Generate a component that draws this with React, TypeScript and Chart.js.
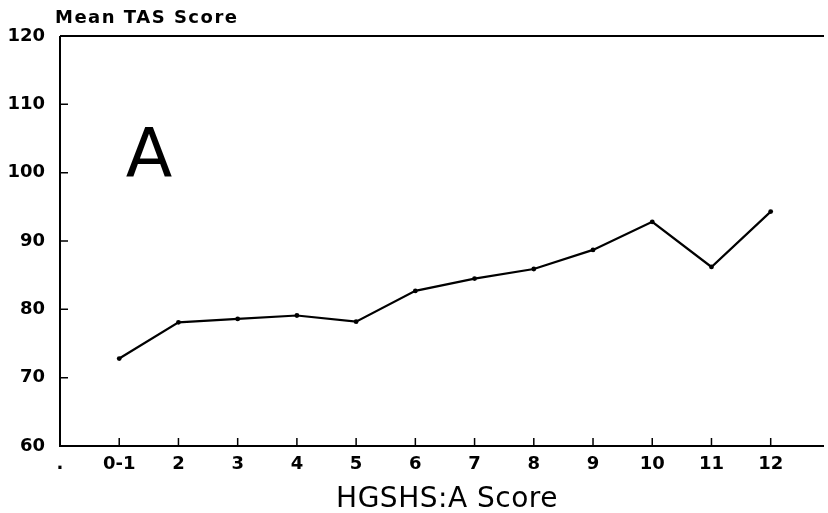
import React, { useEffect, useRef } from "react";
import { Chart, registerables } from "chart.js";

Chart.register(...registerables);

const categoryLabels = [".", "0-1", "2", "3", "4", "5", "6", "7", "8", "9", "10", "11", "12"];
const pointIndex = [1, 2, 3, 4, 5, 6, 7, 8, 9, 10, 11, 12];
const meanTAS = [72.8, 78.1, 78.6, 79.1, 78.2, 82.7, 84.5, 85.9, 88.7, 92.8, 86.2, 94.3];
const yTickValues = [60, 70, 80, 90, 100, 110, 120];
const yTitle = "Mean TAS Score";
const xTitle = "HGSHS:A Score";
const panelLetter = "A";

const framePlugin = {
  id: "frame",
  afterDraw(chart: any) {
    const { ctx, chartArea } = chart;
    const { left, right, top, bottom } = chartArea;
    const xs = chart.scales.x;
    const ys = chart.scales.y;
    ctx.save();
    ctx.strokeStyle = "#000";
    ctx.lineWidth = 2;
    ctx.beginPath();
    ctx.moveTo(left, top);
    ctx.lineTo(right, top);
    ctx.moveTo(left, top);
    ctx.lineTo(left, bottom);
    ctx.lineTo(right, bottom);
    ctx.stroke();
    ctx.lineWidth = 1.5;
    ctx.beginPath();
    for (let i = 1; i < categoryLabels.length; i++) {
      const px = xs.getPixelForValue(i);
      ctx.moveTo(px, bottom);
      ctx.lineTo(px, bottom - 8);
    }
    for (const v of yTickValues) {
      if (v === 60 || v === 120) continue;
      const py = ys.getPixelForValue(v);
      ctx.moveTo(left, py);
      ctx.lineTo(left + 8, py);
    }
    ctx.stroke();
    ctx.fillStyle = "#000";
    ctx.textBaseline = "middle";
    ctx.textAlign = "left";
    ctx.font = "bold 18px 'DejaVu Sans'";
    (ctx as any).letterSpacing = "1.5px";
    ctx.fillText(yTitle, 55, 18);
    ctx.textAlign = "center";
    ctx.font = "28px 'DejaVu Sans'";
    (ctx as any).letterSpacing = "0.5px";
    ctx.fillText(xTitle, (left + right) / 2 + 5, 500);
    (ctx as any).letterSpacing = "0px";
    ctx.textBaseline = "alphabetic";
    ctx.font = "68px 'DejaVu Sans'";
    ctx.fillText(panelLetter, 149, 177);
    ctx.restore();
  },
};

export default function App() {
  const ref = useRef<HTMLCanvasElement>(null);
  useEffect(() => {
    if (!ref.current) return;
    const chart = new Chart(ref.current, {
      type: "line",
      data: {
        datasets: [
          {
            data: pointIndex.map((x, i) => ({ x, y: meanTAS[i] })),
            borderColor: "#000",
            backgroundColor: "#000",
            borderWidth: 2.2,
            pointRadius: 2.4,
            pointBorderWidth: 0,
            tension: 0,
          },
        ],
      },
      options: {
        animation: false,
        responsive: true,
        maintainAspectRatio: false,
        layout: { padding: { left: 0, right: 2, top: 36, bottom: 0 } },
        plugins: { legend: { display: false }, tooltip: { enabled: false } },
        scales: {
          x: {
            type: "linear",
            min: 0,
            max: 12.9,
            grid: { display: false, drawTicks: false },
            border: { display: false },
            afterBuildTicks: (scale: any) => {
              scale.ticks = categoryLabels.map((_, i) => ({ value: i }));
            },
            afterFit: (scale: any) => {
              scale.height = 67;
            },
            ticks: {
              autoSkip: false,
              maxRotation: 0,
              padding: 8,
              color: "#000",
              font: { family: "'DejaVu Sans'", size: 18, weight: "bold" },
              callback: (v: any) => categoryLabels[Math.round(Number(v))] ?? "",
            },
          },
          y: {
            type: "linear",
            min: 60,
            max: 120,
            grid: { display: false, drawTicks: false },
            border: { display: false },
            afterBuildTicks: (scale: any) => {
              scale.ticks = yTickValues.map((v) => ({ value: v }));
            },
            afterFit: (scale: any) => {
              scale.width = 60;
            },
            ticks: {
              padding: 15,
              color: "#000",
              font: { family: "'DejaVu Sans'", size: 18, weight: "bold" },
            },
          },
        },
      },
      plugins: [framePlugin],
    });
    return () => chart.destroy();
  }, []);
  return (
    <div style={{ position: "fixed", left: 0, top: 0, width: 828, height: 513, background: "#fff" }}>
      <canvas ref={ref} />
    </div>
  );
}
